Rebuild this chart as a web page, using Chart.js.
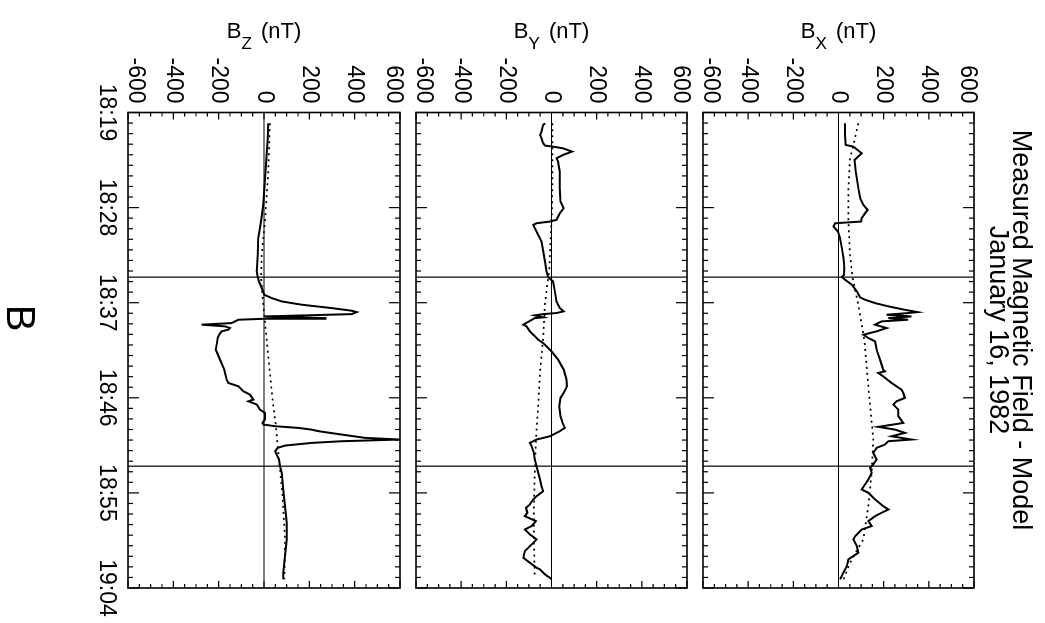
<!DOCTYPE html>
<html>
<head>
<meta charset="utf-8">
<script src="https://cdn.jsdelivr.net/npm/chart.js@4.4.1/dist/chart.umd.min.js"></script>
<style>
  html, body { margin: 0; padding: 0; background: #fff; overflow: hidden; }
  body { width: 1045px; height: 623px; position: relative; }
  /* the whole figure is drawn upright, then turned a quarter clockwise */
  #page { position: absolute; left: 0; top: 0; width: 623px; height: 1045px;
          transform-origin: 0 0; transform: translateX(1045px) rotate(90deg); }
  .panel { position: absolute; left: 0; }
  canvas { display: block; }
</style>
</head>
<body>
<div id="page">
  <div class="panel" style="top:0px"><canvas id="bx" width="623" height="357"></canvas></div>
  <div class="panel" style="top:343px"><canvas id="by" width="623" height="301"></canvas></div>
  <div class="panel" style="top:630px"><canvas id="bz" width="623" height="415"></canvas></div>
</div>
<script>
// tempo in minuti dalle 18:00
const timeTicks = [19, 28, 37, 46, 55, 64];
const timeLabels = ['18:19', '18:28', '18:37', '18:46', '18:55', '19:04'];
const valueTicks = [-600, -400, -200, 0, 200, 400, 600];
const eventTimes = [34.58, 52.47];
const titleLines = ['Measured Magnetic Field - Model', 'January 16, 1982'];

// B_X misurato
const bxTimes = [20.02, 21.13, 22.07, 22.23, 22.86, 23.49, 24.59, 26.17, 27.11, 27.74, 28.22, 28.53, 29.00, 29.32, 29.48, 29.79, 30.26, 30.89, 31.84, 32.78, 33.73, 34.36, 34.58, 34.83, 35.30, 35.93, 36.50, 36.72, 37.04, 37.35, 37.67, 37.89, 37.98, 38.14, 38.30, 38.46, 38.61, 38.77, 39.08, 39.40, 39.71, 40.03, 40.34, 40.66, 41.45, 42.39, 43.34, 43.49, 43.65, 43.97, 44.60, 45.23, 45.54, 46.01, 46.33, 46.64, 47.12, 47.75, 48.38, 48.75, 49.01, 49.32, 49.64, 49.95, 50.11, 50.42, 50.74, 51.21, 51.84, 52.31, 52.63, 53.10, 53.73, 54.68, 54.99, 55.62, 56.25, 56.57, 56.88, 57.20, 57.67, 58.14, 58.46, 59.09, 59.40, 60.03, 60.66, 61.29, 61.92, 62.55, 63.18];
const bxValues = [29, 29, 32, 66, 103, 71, 76, 88, 96, 110, 129, 118, 103, 100, -15, -22, -3, 7, 15, 22, 26, 24, 15, 29, 59, 81, 96, 118, 162, 221, 294, 350, 309, 213, 323, 221, 309, 191, 162, 213, 169, 110, 132, 162, 169, 184, 198, 206, 176, 198, 235, 279, 287, 294, 257, 243, 265, 265, 287, 176, 250, 294, 235, 323, 221, 206, 169, 154, 169, 154, 140, 147, 132, 103, 132, 162, 198, 221, 191, 162, 132, 147, 103, 74, 66, 81, 88, 44, 37, 22, 7];
// B_X modello
const bxModelTimes = [20.02, 22.07, 23.33, 26.17, 29.32, 32.47, 34.58, 37.19, 39.08, 40.66, 46.80, 49.95, 53.10, 56.25, 59.40, 61.61, 63.18];
const bxModelValues = [88, 66, 51, 44, 44, 51, 62, 88, 103, 115, 140, 154, 147, 132, 110, 51, 22];

// B_Y misurato
const byTimes = [20.02, 20.18, 20.81, 21.13, 21.44, 21.91, 22.13, 22.23, 22.39, 22.70, 23.02, 23.33, 23.65, 24.59, 26.17, 27.43, 28.06, 28.53, 29.16, 29.32, 29.48, 29.63, 29.95, 30.58, 31.21, 32.15, 33.10, 34.04, 34.58, 34.99, 35.93, 36.88, 37.51, 37.82, 37.98, 38.08, 38.20, 38.39, 38.46, 39.08, 39.24, 39.71, 40.03, 40.34, 40.50, 40.82, 41.60, 42.39, 43.34, 44.28, 44.91, 45.54, 46.01, 46.80, 47.75, 48.38, 48.85, 49.16, 49.64, 49.95, 50.27, 50.58, 51.21, 51.84, 52.47, 53.10, 53.73, 54.36, 54.84, 55.31, 55.62, 56.10, 56.41, 56.88, 57.20, 57.67, 58.14, 58.46, 58.93, 59.40, 59.88, 60.51, 61.14, 61.61, 62.08, 62.24, 62.71, 63.03, 63.18];
const byValues = [-29, -37, -44, -51, -44, -37, -29, 7, 51, 91, 51, 22, 29, 37, 37, 40, 54, 37, 22, -7, -66, -81, -74, -59, -44, -37, -29, -22, -15, 7, 15, 22, 37, 54, 22, -37, -74, -37, -74, -125, -110, -96, -81, -66, -59, -37, 0, 29, 54, 66, 69, 54, 40, 34, 40, 49, 59, 37, -7, -66, -96, -88, -78, -74, -66, -59, -51, -44, -37, -66, -81, -96, -113, -107, -118, -69, -88, -118, -96, -66, -88, -118, -125, -96, -66, -51, -29, -7, 0];
// B_Y modello
const byModelTimes = [20.02, 24.59, 27.74, 29.32, 30.89, 32.47, 34.04, 35.30, 37.19, 40.34, 43.65, 46.80, 49.95, 53.10, 56.25, 59.40, 63.03];
const byModelValues = [4, 4, 3, 0, -4, -7, -10, -19, -29, -37, -51, -59, -69, -74, -78, -78, -74];

// B_Z misurato
const bzTimes = [20.02, 21.44, 24.59, 27.74, 29.32, 30.89, 32.47, 34.04, 34.58, 34.99, 35.62, 36.25, 36.56, 36.88, 37.19, 37.51, 37.76, 37.89, 38.08, 38.20, 38.30, 38.46, 38.52, 38.61, 38.77, 38.93, 39.08, 39.24, 39.40, 39.55, 39.71, 40.03, 40.34, 40.98, 41.45, 42.39, 43.34, 44.28, 44.60, 44.91, 45.38, 45.70, 46.17, 46.33, 46.64, 47.12, 47.43, 48.06, 48.38, 48.53, 48.69, 48.85, 49.01, 49.16, 49.48, 49.79, 49.95, 50.11, 50.27, 50.52, 50.74, 51.05, 51.37, 51.84, 52.47, 53.10, 54.68, 56.25, 57.83, 59.40, 60.98, 62.55, 63.18];
const bzValues = [19, 16, 7, -3, -13, -25, -28, -32, -28, -22, -10, 1, 34, 78, 166, 298, 387, 409, 387, 181, 4, 276, 4, -113, -128, -143, -275, -172, -150, -157, -187, -198, -204, -209, -213, -194, -175, -165, -157, -113, -91, -62, -47, -69, -32, -18, 4, 4, -7, -3, 49, 151, 210, 240, 343, 445, 600, 343, 210, 93, 60, 49, 56, 66, 71, 78, 85, 93, 100, 100, 93, 85, 85];
// B_Z modello
const bzModelTimes = [20.02, 24.59, 29.32, 32.47, 34.58, 37.19, 40.50, 43.65, 46.80, 48.38, 50.42, 51.84, 55.00, 59.40, 63.18];
const bzModelValues = [26, 19, 4, -10, -13, -3, 12, 26, 41, 51, 60, 66, 81, 93, 90];

const FONT = '"Liberation Sans", Arial, Helvetica, sans-serif';
Chart.defaults.font.family = FONT;
Chart.defaults.color = '#000';

const toPoints = (ts, vs) => ts.map((t, i) => ({ x: t, y: vs[i] }));

// etichette valore: quelle agli estremi vengono spostate verso l'interno
const valueLabel = v => {
    if (!valueTicks.includes(v)) return '';
    if (v === valueTicks[0]) return [String(v), ''];
    if (v === valueTicks[valueTicks.length - 1]) return ['', String(v)];
    return String(v);
};

// cornice, tacche interne, titoli degli assi e scritte della pagina
const framePlugin = {
    id: 'frame',
    afterDatasetsDraw(chart, args, opts) {
        const { ctx, chartArea: a } = chart;
        const xs = chart.scales.x, ys = chart.scales.y;
        ctx.save();
        ctx.strokeStyle = '#000';
        ctx.lineWidth = 1.6;
        ctx.strokeRect(a.left, a.top, a.right - a.left, a.bottom - a.top);

        ctx.lineWidth = 1.2;
        ctx.beginPath();
        xs.ticks.forEach(t => {
            const px = xs.getPixelForValue(t.value);
            const len = timeTicks.includes(t.value) ? 11 : 5;
            ctx.moveTo(px, a.bottom); ctx.lineTo(px, a.bottom - len);
            ctx.moveTo(px, a.top); ctx.lineTo(px, a.top + len);
        });
        ys.ticks.forEach(t => {
            const py = ys.getPixelForValue(t.value);
            const len = valueTicks.includes(t.value) ? 7 : 4;
            ctx.moveTo(a.left, py); ctx.lineTo(a.left + len, py);
            ctx.moveTo(a.right, py); ctx.lineTo(a.right - len, py);
        });
        ctx.stroke();

        // titolo asse con pedice, es. B_X (nT)
        ctx.fillStyle = '#000';
        ctx.textBaseline = 'alphabetic';
        ctx.textAlign = 'left';
        ctx.translate(38, (a.top + a.bottom) / 2);
        ctx.rotate(-Math.PI / 2);
        const fMain = '22px ' + FONT, fSub = '17px ' + FONT;
        ctx.font = fMain;
        const wB = ctx.measureText('B').width;
        const wU = ctx.measureText(' (nT)').width;
        ctx.font = fSub;
        const wS = ctx.measureText(opts.sub).width;
        const x0 = -(wB + wS + 3 + wU) / 2;
        ctx.font = fMain; ctx.fillText('B', x0, 0);
        ctx.font = fSub; ctx.fillText(opts.sub, x0 + wB, 11);
        ctx.font = fMain; ctx.fillText(' (nT)', x0 + wB + wS + 3, 0);
        ctx.setTransform(1, 0, 0, 1, 0, 0);

        // scritte in coordinate di pagina
        const off = opts.divTop;
        if (opts.title) {
            ctx.textAlign = 'center';
            ctx.font = '27px ' + FONT;
            ctx.fillText(titleLines[0], 330, 31.5 - off);
            ctx.fillText(titleLines[1], 330, 55 - off);
        }
        if (opts.bigLabel) {
            ctx.textAlign = 'center';
            ctx.font = '40px ' + FONT;
            ctx.fillText(opts.bigLabel, 318, 1038 - off);
        }
        ctx.restore();
    }
};

function makePanel(id, times, values, modelTimes, modelValues, cfg) {
    const refLine = (pts, w) => ({
        data: pts, borderColor: '#000', borderWidth: w, pointRadius: 0, tension: 0, fill: false
    });
    return new Chart(document.getElementById(id), {
        type: 'line',
        data: {
            datasets: [
                refLine([{ x: 19, y: 0 }, { x: 64, y: 0 }], 1.2),
                refLine([{ x: eventTimes[0], y: -600 }, { x: eventTimes[0], y: 600 }], 1.2),
                refLine([{ x: eventTimes[1], y: -600 }, { x: eventTimes[1], y: 600 }], 1.2),
                Object.assign(refLine(toPoints(modelTimes, modelValues), 1.7), { borderDash: [2, 4] }),
                refLine(toPoints(times, values), 2)
            ]
        },
        options: {
            responsive: false,
            animation: false,
            layout: { padding: { left: 0, right: 35, top: cfg.padTop, bottom: cfg.padBottom } },
            plugins: {
                legend: { display: false },
                tooltip: { enabled: false },
                frame: { sub: cfg.sub, title: cfg.title, bigLabel: cfg.bigLabel, divTop: cfg.divTop }
            },
            scales: {
                x: {
                    type: 'linear', min: 19, max: 64,
                    grid: { display: false, drawTicks: false },
                    border: { display: false },
                    ticks: {
                        display: cfg.showTime, stepSize: 1, autoSkip: false, maxRotation: 0,
                        padding: 8, font: { size: 23 },
                        callback: v => { const i = timeTicks.indexOf(v); return i >= 0 ? timeLabels[i] : ''; }
                    },
                    afterFit: s => { s.height = cfg.axisH; s.paddingLeft = 0; s.paddingRight = 0; }
                },
                y: {
                    min: -600, max: 600,
                    grid: { display: false, drawTicks: false },
                    border: { display: false },
                    ticks: {
                        stepSize: 50, autoSkip: false, padding: 9,
                        font: { size: 23, lineHeight: '14px' },
                        callback: valueLabel
                    },
                    afterFit: s => { s.width = 112.5; s.paddingTop = 0; s.paddingBottom = 0; }
                }
            }
        },
        plugins: [framePlugin]
    });
}

// pannelli: B_X 71-342, B_Y 358-629, B_Z 645-917 (coordinate di pagina)
makePanel('bx', bxTimes, bxValues, bxModelTimes, bxModelValues,
    { sub: 'X', title: true, divTop: 0, padTop: 71, padBottom: 15, axisH: 0, showTime: false });
makePanel('by', byTimes, byValues, byModelTimes, byModelValues,
    { sub: 'Y', divTop: 343, padTop: 15, padBottom: 15, axisH: 0, showTime: false });
makePanel('bz', bzTimes, bzValues, bzModelTimes, bzModelValues,
    { sub: 'Z', bigLabel: 'B', divTop: 630, padTop: 15, padBottom: 88, axisH: 40, showTime: true });
</script>
</body>
</html>
